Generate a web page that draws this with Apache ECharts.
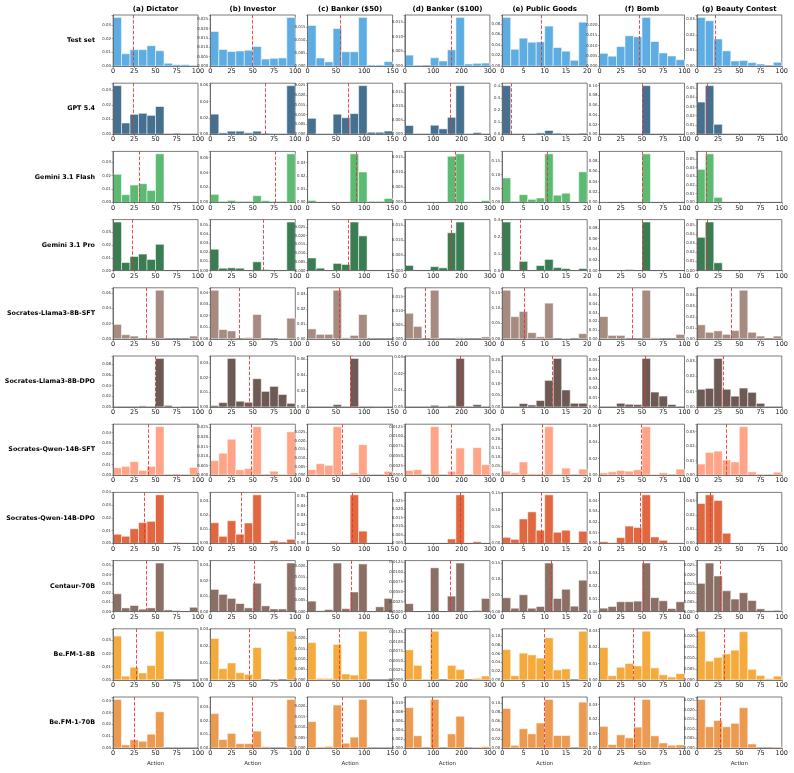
<!DOCTYPE html>
<html>
<head>
<meta charset="utf-8">
<script src="https://cdn.jsdelivr.net/npm/echarts@6/dist/echarts.min.js"></script>
<style>
  html, body { margin: 0; padding: 0; background: #fff; }
  #chart { width: 794px; height: 773px; }
</style>
</head>
<body>
<div id="chart"></div>
<script>
// columns (games) and their action ranges
const games = ['(a) Dictator', '(b) Investor', '(c) Banker ($50)', '(d) Banker ($100)', '(e) Public Goods', '(f) Bomb', '(g) Beauty Contest'];
const xMax = [100, 100, 150, 300, 20, 100, 100];
const xTickStep = [25, 25, 50, 100, 5, 25, 25];

// rows (sources)
const models = ['Test set', 'GPT 5.4', 'Gemini 3.1 Flash', 'Gemini 3.1 Pro', 'Socrates-Llama3-8B-SFT', 'Socrates-Llama3-8B-DPO',
  'Socrates-Qwen-14B-SFT', 'Socrates-Qwen-14B-DPO', 'Centaur-70B', 'Be.FM-1-8B', 'Be.FM-1-70B'];
const colors = ['#5dade2', '#45708f', '#5dba72', '#3a7d52', '#a68b80', '#6e5a54', '#ffa486', '#e0673f', '#8b6e64', '#f5aa3c', '#ec9a4f'];

// density per bin (10 bins per game), one array per row
const testSet = [
  [0.0356, 0.009, 0.012, 0.012, 0.0149, 0.0112, 0.002, 0.001, 0.001, 0.0003],
  [0.0184, 0.0088, 0.0077, 0.008, 0.0084, 0.0104, 0.0037, 0.0041, 0.0043, 0.0259],
  [0.0157, 0.0031, 0.0016, 0.0145, 0.0055, 0.0055, 0.0188, 0.0004, 0.0004, 0.0017],
  [0.0037, 0.0003, 0, 0.0028, 0.0017, 0.0055, 0.0165, 0.0007, 0.0009, 0.001],
  [0.092, 0.0317, 0.0527, 0.045, 0.0457, 0.0756, 0.035, 0.028, 0.0108, 0.083],
  [0.0062, 0.0048, 0.0095, 0.0148, 0.0143, 0.0238, 0.012, 0.0064, 0.0049, 0.0031],
  [0.0311, 0.029, 0.0173, 0.0097, 0.0032, 0.0035, 0.0022, 0.0013, 0, 0.0024]
];
const gpt54 = [
  [0.033, 0.0076, 0.0135, 0.0142, 0.0128, 0.0188, 0, 0.0007, 0, 0],
  [0.0246, 0.0017, 0.0037, 0.0037, 0.0017, 0.0037, 0.0012, 0.0008, 0, 0.0596],
  [0.0081, 0.0003, 0.0003, 0.0102, 0.0084, 0.0105, 0.0248, 0.001, 0.001, 0.0016],
  [0.0031, 0, 0, 0.0032, 0.0019, 0.006, 0.0173, 0.0002, 0.0006, 0],
  [0.405, 0, 0.006, 0.006, 0.011, 0.031, 0.009, 0, 0, 0.009],
  [0, 0, 0, 0, 0, 0.1, 0, 0, 0, 0],
  [0.0348, 0.0526, 0.0107, 0, 0, 0, 0, 0, 0, 0]
];
const gemFlash = [
  [0.0211, 0.0058, 0.013, 0.014, 0.0089, 0.0364, 0, 0, 0, 0],
  [0.0108, 0.0014, 0.0027, 0.0014, 0.0014, 0.009, 0.0023, 0.0014, 0.0014, 0.065],
  [0.0015, 0, 0, 0, 0, 0.0366, 0.0229, 0.0008, 0.0008, 0.003],
  [0, 0, 0, 0.0002, 0, 0.0152, 0.016, 0.0002, 0, 0.0006],
  [0.088, 0.004, 0.028, 0.011, 0.016, 0.175, 0.026, 0.033, 0, 0.11],
  [0.0008, 0, 0, 0, 0, 0.094, 0, 0, 0, 0],
  [0.038, 0.0558, 0.0058, 0, 0, 0, 0, 0, 0, 0]
];
const gemPro = [
  [0.0379, 0.0063, 0.011, 0.0129, 0.0087, 0.0205, 0, 0, 0, 0],
  [0.0233, 0.0026, 0.003, 0.0026, 0, 0.0096, 0.0011, 0, 0, 0.053],
  [0.0072, 0.0014, 0, 0.0041, 0.0035, 0.0277, 0.0198, 0, 0, 0],
  [0.0017, 0, 0, 0.0013, 0.0009, 0.0124, 0.0159, 0, 0, 0],
  [0.29, 0, 0.055, 0, 0.03, 0.067, 0.018, 0.012, 0, 0.012],
  [0, 0, 0, 0.002, 0, 0.091, 0, 0, 0, 0],
  [0.0363, 0.053, 0.0085, 0, 0, 0, 0, 0, 0, 0]
];
const llamaSft = [
  [0.019, 0.0054, 0.0036, 0, 0.0014, 0.064, 0, 0, 0, 0.0036],
  [0.042, 0.008, 0.0068, 0, 0.0012, 0.021, 0, 0, 0.0003, 0.0178],
  [0.0067, 0.003, 0.003, 0.0328, 0.0007, 0.0023, 0.0164, 0, 0, 0],
  [0.0091, 0.0044, 0, 0.0173, 0, 0, 0.0004, 0, 0, 0.0007],
  [0.158, 0.072, 0.089, 0.02, 0.0067, 0.116, 0, 0.001, 0, 0.0167],
  [0.0256, 0.0039, 0.0039, 0, 0, 0.056, 0.0012, 0, 0, 0.0051],
  [0.0129, 0.006, 0.0073, 0.0041, 0.0076, 0.0448, 0.006, 0.0025, 0, 0.0025]
];
const llamaDpo = [
  [0, 0, 0, 0.002, 0, 0.091, 0.003, 0.0006, 0, 0],
  [0.001, 0.003, 0.033, 0.0039, 0.0032, 0.0192, 0.0106, 0.014, 0.0085, 0.0025],
  [0, 0, 0, 0.003, 0.0009, 0.061, 0, 0, 0.0009, 0],
  [0, 0, 0, 0.001, 0, 0.0008, 0.029, 0, 0.0014, 0],
  [0, 0, 0.0146, 0.0087, 0.0277, 0.114, 0.208, 0.073, 0.016, 0.016],
  [0, 0, 0.004, 0.0029, 0.0026, 0.052, 0.016, 0.0117, 0.0026, 0],
  [0.0116, 0.0122, 0.0318, 0.0116, 0.0071, 0.0124, 0.0096, 0.0024, 0, 0]
];
const qwenSft = [
  [0.007, 0.0083, 0.0128, 0.0045, 0.0083, 0.0457, 0, 0.0013, 0, 0.0073],
  [0.0076, 0.0115, 0.0188, 0.0028, 0.0035, 0.0254, 0, 0.0021, 0.0005, 0.0227],
  [0.0033, 0.0067, 0.0057, 0.0282, 0, 0.0014, 0.0177, 0, 0, 0.0022],
  [0.0012, 0.0014, 0, 0.0125, 0, 0.001, 0.007, 0, 0.0071, 0.0027],
  [0.0224, 0.013, 0.0728, 0.0075, 0.0075, 0.267, 0.0056, 0.039, 0, 0.0336],
  [0.0029, 0.0041, 0.0058, 0.0049, 0.0066, 0.0587, 0.0008, 0.0029, 0, 0.0074],
  [0.0077, 0.0157, 0.0166, 0.0105, 0.0091, 0.0335, 0.0023, 0.0007, 0, 0.0021]
];
const qwenDpo = [
  [0.0072, 0.0056, 0.0115, 0.0163, 0.0173, 0.0381, 0, 0.0008, 0, 0],
  [0.0146, 0.005, 0.016, 0.0065, 0.0144, 0.0343, 0, 0.0019, 0.001, 0.0029],
  [0, 0, 0, 0.0007, 0, 0.0514, 0.013, 0, 0, 0],
  [0, 0, 0, 0, 0, 0.0026, 0.0284, 0, 0.001, 0],
  [0.018, 0.012, 0.0725, 0.0935, 0.039, 0.144, 0.033, 0.039, 0, 0.036],
  [0.0016, 0.0006, 0.0054, 0.0162, 0.0149, 0.0454, 0.006, 0.0029, 0.0006, 0.0006],
  [0.0279, 0.034, 0.03, 0.0071, 0, 0, 0, 0, 0, 0]
];
const centaur = [
  [0.0193, 0.004, 0.0066, 0.0026, 0.004, 0.0525, 0.0018, 0.0011, 0, 0.0047],
  [0.0143, 0.0111, 0.0085, 0.0052, 0.0024, 0.0183, 0.0037, 0.0017, 0.0017, 0.0313],
  [0.0046, 0.0004, 0.0009, 0.0213, 0.0013, 0.0086, 0.0209, 0, 0.0021, 0.0058],
  [0.002, 0, 0, 0.011, 0, 0.0039, 0.0122, 0, 0.0003, 0.0033],
  [0.0427, 0.0104, 0.052, 0.0104, 0.0156, 0.15, 0.0406, 0.069, 0.0167, 0.097],
  [0.0027, 0.004, 0.0077, 0.0077, 0.0082, 0.038, 0.0109, 0.0085, 0.0024, 0.0077],
  [0.0153, 0.0263, 0.0193, 0.0113, 0.0068, 0.0102, 0.006, 0.0015, 0.0005, 0.0007]
];
const befm8 = [
  [0.0333, 0.0028, 0.0096, 0.0052, 0.0109, 0.037, 0, 0, 0, 0],
  [0.0245, 0.0066, 0.01, 0.0042, 0.0032, 0.0191, 0, 0.0004, 0, 0.0288],
  [0.018, 0.0007, 0.0007, 0.0171, 0.0028, 0.0023, 0.0235, 0, 0, 0],
  [0.0079, 0.0038, 0.0002, 0.0128, 0, 0.0038, 0.0027, 0, 0.0004, 0.001],
  [0.069, 0.0093, 0.061, 0.057, 0.0496, 0.096, 0.0225, 0.0248, 0, 0.111],
  [0.0198, 0.0025, 0.0077, 0.01, 0.0085, 0.0298, 0.0073, 0.0031, 0.0017, 0.0038],
  [0.0223, 0.0086, 0.0103, 0.0119, 0.0136, 0.0221, 0.0048, 0.002, 0.0005, 0.0017]
];
const befm70 = [
  [0.0411, 0.0026, 0.0069, 0.0057, 0.0117, 0.0306, 0, 0, 0, 0],
  [0.0253, 0.0062, 0.0107, 0.0032, 0.0032, 0.0124, 0.001, 0, 0, 0.0357],
  [0.0126, 0.0005, 0.0008, 0.0205, 0.0023, 0.0052, 0.0232, 0, 0, 0],
  [0.0089, 0.0027, 0, 0.0107, 0, 0.0031, 0.007, 0, 0.0002, 0.0003],
  [0.0886, 0.006, 0.0432, 0.0318, 0.056, 0.109, 0.028, 0.028, 0, 0.103],
  [0.0149, 0.0023, 0.0091, 0.007, 0.0144, 0.0335, 0.0084, 0.0035, 0.0019, 0.0021],
  [0.0254, 0.0111, 0.0144, 0.0111, 0.0129, 0.0211, 0.0021, 0, 0, 0.0005]
];

// mean action per row (red dashed line), one value per game
const meanTestSet = [24, 49.5, 58, 162, 9.1, 46.2, 21.2];
const meanGpt54 = [24.3, 65.2, 72.4, 158.8, 2.1, 50.2, 12.6];
const meanGemFlash = [30.9, 76.9, 86.5, 178.8, 10.5, 50.6, 11.4];
const meanGemPro = [22.7, 62.4, 72.4, 163.5, 4.2, 50.6, 11.8];
const meanLlamaSft = [39.6, 34.1, 56.5, 73, 5.1, 38, 40.8];
const meanLlamaDpo = [49.8, 45.5, 74.8, 196.5, 11.8, 53.3, 31];
const meanQwenSft = [42, 47.9, 61.8, 164.7, 9.4, 49, 34.5];
const meanQwenDpo = [36.9, 36.5, 79.4, 196.5, 9.25, 47.5, 15.7];
const meanCentaur = [39.2, 51.8, 76.5, 158.8, 11.5, 51, 27];
const meanBefm8 = [27.8, 45.9, 55.4, 91.8, 9.95, 39.2, 32];
const meanBefm70 = [24.6, 49.4, 60.7, 96.5, 9.8, 40.8, 27.4];

const hists = [testSet, gpt54, gemFlash, gemPro, llamaSft, llamaDpo, qwenSft, qwenDpo, centaur, befm8, befm70];
const means = [meanTestSet, meanGpt54, meanGemFlash, meanGemPro, meanLlamaSft, meanLlamaDpo, meanQwenSft, meanQwenDpo, meanCentaur, meanBefm8, meanBefm70];

// layout
const L0 = 113, COL = 97.3, PW = 85;
const T0 = 15, ROW = 68.2, PH = 51;
const FONT = 'DejaVu Sans';
const EDGE = '#5a5a5a';

// matplotlib-like tick step: smallest of 1/2/2.5/5 x 10^k giving <= 6 intervals
function niceStep(top) {
  for (let k = -5; k <= 1; k++) {
    for (const m of [1, 2, 2.5, 5]) {
      const s = +(m * Math.pow(10, k)).toPrecision(6);
      if (top / s <= 6) return s;
    }
  }
  return top;
}

const grid = [], xAxis = [], yAxis = [], series = [], graphic = [];

games.forEach((g, c) => {
  graphic.push({
    type: 'text', x: L0 + c * COL + PW / 2, y: 9, silent: true,
    style: { text: g, fontSize: 7, fontWeight: 'bold', fontFamily: FONT, fill: '#000', align: 'center', verticalAlign: 'middle' }
  });
  graphic.push({
    type: 'text', x: L0 + c * COL + PW / 2, y: 764, silent: true,
    style: { text: 'Action', fontSize: 5.5, fontFamily: FONT, fill: '#333', align: 'center', verticalAlign: 'middle' }
  });
});

models.forEach((name, r) => {
  const top = T0 + r * ROW;
  graphic.push({
    type: 'text', x: 95, y: top + PH / 2, silent: true,
    style: { text: name, fontSize: 6.4, fontWeight: 'bold', fontFamily: FONT, fill: '#000', align: 'right', verticalAlign: 'middle' }
  });

  hists[r].forEach((vals, c) => {
    const idx = grid.length;
    const bw = xMax[c] / vals.length;
    const yTop = Math.max(...vals) * 1.05;
    const step = niceStep(yTop);
    const dec = (String(step).split('.')[1] || '').length;
    const color = colors[r];

    grid.push({
      left: L0 + c * COL, top: top, width: PW, height: PH,
      show: true, borderColor: EDGE, borderWidth: 0.8, containLabel: false, outerBoundsMode: 'none'
    });
    xAxis.push({
      gridIndex: idx, type: 'value', min: 0, max: xMax[c], interval: xTickStep[c], z: 5,
      axisLine: { show: true, onZero: false, lineStyle: { color: EDGE, width: 0.8 } },
      axisTick: { show: true, length: 2, lineStyle: { color: EDGE, width: 0.6 } },
      axisLabel: { fontSize: 6.5, color: '#222', margin: 2, fontFamily: FONT },
      splitLine: { show: false }
    });
    yAxis.push({
      gridIndex: idx, type: 'value', min: 0, max: yTop, interval: step, z: 5,
      axisLine: { show: true, onZero: false, lineStyle: { color: EDGE, width: 0.8 } },
      axisTick: { show: true, length: 1.5, lineStyle: { color: EDGE, width: 0.5 } },
      axisLabel: {
        fontSize: 3.9, color: '#333', margin: 2, fontFamily: FONT,
        formatter: v => Math.abs(v / step - Math.round(v / step)) < 1e-6 ? v.toFixed(dec) : ''
      },
      splitLine: { show: false }
    });
    series.push({
      type: 'custom', xAxisIndex: idx, yAxisIndex: idx,
      encode: { x: [0, 1], y: 2 },
      data: vals.map((v, i) => [i * bw, (i + 1) * bw, v]),
      renderItem: (params, api) => {
        const h = api.value(2);
        if (!h) return null;
        const p0 = api.coord([api.value(0), h]);
        const p1 = api.coord([api.value(1), 0]);
        return {
          type: 'rect',
          shape: { x: p0[0], y: p0[1], width: p1[0] - p0[0], height: p1[1] - p0[1] },
          style: { fill: color, stroke: 'rgba(255,255,255,0.65)', lineWidth: 0.8 }
        };
      }
    });
    series.push({
      type: 'line', xAxisIndex: idx, yAxisIndex: idx, data: [],
      markLine: {
        silent: true, symbol: 'none', animation: false,
        label: { show: false },
        lineStyle: { color: '#e8302c', type: [3.5, 1.8], width: 1, opacity: 0.85 },
        data: [{ xAxis: means[r][c] }]
      }
    });
  });
});

const chart = echarts.init(document.getElementById('chart'), null, { renderer: 'canvas' });
chart.setOption({
  animation: false,
  backgroundColor: '#fff',
  grid, xAxis, yAxis, series, graphic
});
</script>
</body>
</html>
